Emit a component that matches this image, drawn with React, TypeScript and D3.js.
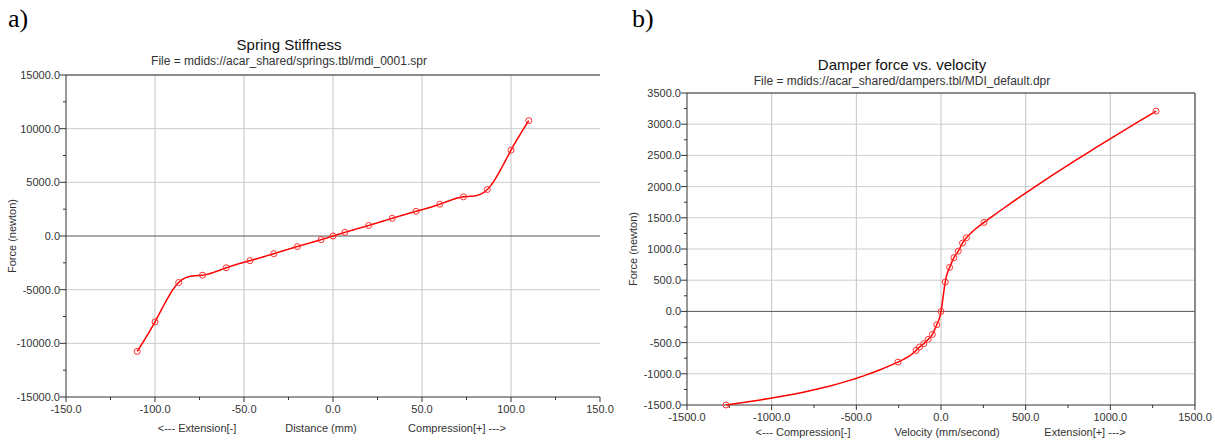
import React from 'react';
import * as d3 from 'd3';

// spring: distance (mm) vs force (N)
const springX = [-110, -100, -86.7, -73.3, -60, -46.7, -33.3, -20, -6.67, 0, 6.67, 20, 33.3, 46.7, 60, 73.3, 86.7, 100, 110];
const springY = [-10750, -8000, -4330, -3650, -2960, -2300, -1650, -980, -340, 0, 340, 980, 1650, 2300, 2960, 3650, 4330, 8000, 10750];

// damper: velocity (mm/s) vs force (N)
const damperX = [-1270, -254, -147, -127, -102, -76, -51, -25, 0, 25, 51, 76, 102, 127, 150, 254, 1270];
const damperY = [-1500, -812, -625, -572, -518, -449, -369, -214, 0, 470, 705, 860, 966, 1095, 1180, 1426, 3210];

const springXTicks = [-150, -100, -50, 0, 50, 100, 150];
const springYTicks = [-15000, -10000, -5000, 0, 5000, 10000, 15000];
const damperXTicks = [-1500, -1000, -500, 0, 500, 1000, 1500];
const damperYTicks = [-1500, -1000, -500, 0, 500, 1000, 1500, 2000, 2500, 3000, 3500];

const FONT = '"Liberation Sans", Arial, sans-serif';

// natural cubic spline y(x), sampled for drawing
function splineSamples(xs: number[], ys: number[], per = 20): [number, number][] {
  const n = xs.length;
  const h = xs.slice(0, -1).map((v, i) => xs[i + 1] - v);
  const a = new Array(n).fill(0);
  const b = new Array(n).fill(1);
  const c = new Array(n).fill(0);
  const r = new Array(n).fill(0);
  for (let i = 1; i < n - 1; i++) {
    a[i] = h[i - 1];
    b[i] = 2 * (h[i - 1] + h[i]);
    c[i] = h[i];
    r[i] = 6 * ((ys[i + 1] - ys[i]) / h[i] - (ys[i] - ys[i - 1]) / h[i - 1]);
  }
  // thomas
  for (let i = 1; i < n; i++) {
    const m = a[i] / b[i - 1];
    b[i] -= m * c[i - 1];
    r[i] -= m * r[i - 1];
  }
  const M = new Array(n).fill(0);
  M[n - 1] = r[n - 1] / b[n - 1];
  for (let i = n - 2; i >= 0; i--) M[i] = (r[i] - c[i] * M[i + 1]) / b[i];

  const out: [number, number][] = [];
  for (let i = 0; i < n - 1; i++) {
    for (let k = 0; k < per; k++) {
      const t = xs[i] + (h[i] * k) / per;
      const A = (xs[i + 1] - t) / h[i];
      const B = (t - xs[i]) / h[i];
      const v =
        A * ys[i] +
        B * ys[i + 1] +
        (((A * A * A - A) * M[i] + (B * B * B - B) * M[i + 1]) * h[i] * h[i]) / 6;
      out.push([t, v]);
    }
  }
  out.push([xs[n - 1], ys[n - 1]]);
  return out;
}

type PanelProps = {
  letter: string;
  letterX: number;
  title: string;
  subtitle: string;
  titleX: number;
  titleY: number;
  left: number;
  right: number;
  top: number;
  bottom: number;
  xDomain: [number, number];
  yDomain: [number, number];
  xTicks: number[];
  yTicks: number[];
  xs: number[];
  ys: number[];
  xLabels: { text: string; x: number }[];
  xLabelY: number;
  yLabelX: number;
  rightBorder: boolean;
};

const Panel = (p: PanelProps) => {
  const x = d3.scaleLinear().domain(p.xDomain).range([p.left, p.right]);
  const y = d3.scaleLinear().domain(p.yDomain).range([p.bottom, p.top]);
  const pts = p.xs.map((v, i) => [v, p.ys[i]] as [number, number]);
  const line = d3
    .line<[number, number]>()
    .x((d) => x(d[0]))
    .y((d) => y(d[1]));

  const xMinor = p.xTicks.slice(0, -1).map((t, i) => (t + p.xTicks[i + 1]) / 2);
  const yMinor = p.yTicks.slice(0, -1).map((t, i) => (t + p.yTicks[i + 1]) / 2);

  return (
    <g>
      <text x={p.letterX} y={27} fontFamily='"Liberation Serif", "Times New Roman", serif' fontSize={26}>
        {p.letter}
      </text>
      <text x={p.titleX} y={p.titleY} textAnchor="middle" fontFamily={FONT} fontSize={15} fill="#111">
        {p.title}
      </text>
      <text x={p.titleX} y={p.titleY + 15} textAnchor="middle" fontFamily={FONT} fontSize={12} fill="#333">
        {p.subtitle}
      </text>

      {/* grid */}
      {p.xTicks.slice(1, -1).map((t) => (
        <line key={'gx' + t} x1={x(t)} x2={x(t)} y1={p.top} y2={p.bottom} stroke="#c4c4c4" />
      ))}
      {p.yTicks.slice(1, -1).filter((t) => t !== 0).map((t) => (
        <line key={'gy' + t} x1={p.left} x2={p.right} y1={y(t)} y2={y(t)} stroke="#cdcdcd" />
      ))}
      <line x1={p.left} x2={p.right} y1={y(0)} y2={y(0)} stroke="#555" />

      {/* frame */}
      <line x1={p.left} x2={p.right} y1={p.top} y2={p.top} stroke="#666" strokeWidth={1.5} />
      {p.rightBorder && <line x1={p.right} x2={p.right} y1={p.top} y2={p.bottom} stroke="#666" strokeWidth={1.5} />}
      <line x1={p.left} x2={p.left} y1={p.top} y2={p.bottom} stroke="#333" />
      <line x1={p.left} x2={p.right} y1={p.bottom} y2={p.bottom} stroke="#333" />

      {/* y ticks */}
      {p.yTicks.map((t) => (
        <g key={'yt' + t}>
          <line x1={p.left - 6} x2={p.left} y1={y(t)} y2={y(t)} stroke="#333" />
          <text x={p.left - 6} y={y(t) + 4} textAnchor="end" fontFamily={FONT} fontSize={11} fill="#333">
            {t.toFixed(1)}
          </text>
        </g>
      ))}
      {yMinor.map((t) => (
        <line key={'ym' + t} x1={p.left - 3} x2={p.left} y1={y(t)} y2={y(t)} stroke="#333" />
      ))}

      {/* x ticks */}
      {p.xTicks.map((t) => (
        <g key={'xt' + t}>
          <line x1={x(t)} x2={x(t)} y1={p.bottom} y2={p.bottom + 5} stroke="#333" />
          <text x={x(t)} y={p.bottom + 16} textAnchor="middle" fontFamily={FONT} fontSize={11} fill="#333">
            {t.toFixed(1)}
          </text>
        </g>
      ))}
      {xMinor.map((t) => (
        <line key={'xm' + t} x1={x(t)} x2={x(t)} y1={p.bottom} y2={p.bottom + 3} stroke="#333" />
      ))}

      {p.xLabels.map((l) => (
        <text key={l.text} x={l.x} y={p.xLabelY} textAnchor="middle" fontFamily={FONT} fontSize={11} fill="#333">
          {l.text}
        </text>
      ))}
      <text
        transform={`translate(${p.yLabelX},${(p.top + p.bottom) / 2}) rotate(-90)`}
        textAnchor="middle"
        fontFamily={FONT}
        fontSize={11}
        fill="#333"
      >
        Force (newton)
      </text>

      <path d={line(splineSamples(p.xs, p.ys)) || ''} fill="none" stroke="#ff0000" strokeWidth={1.5} />
      {pts.map((d, i) => (
        <circle key={'c' + i} cx={x(d[0])} cy={y(d[1])} r={3} fill="none" stroke="#ff3030" strokeWidth={1} />
      ))}
    </g>
  );
};

export default function App() {
  return (
    <div style={{ position: 'absolute', left: 0, top: 0 }}>
      <svg width={1215} height={441} style={{ display: 'block', background: '#fff' }}>
        <Panel
          letter="a)"
          letterX={8}
          title="Spring Stiffness"
          subtitle="File = mdids://acar_shared/springs.tbl/mdi_0001.spr"
          titleX={289}
          titleY={50}
          left={66}
          right={600}
          top={75}
          bottom={397}
          xDomain={[-150, 150]}
          yDomain={[-15000, 15000]}
          xTicks={springXTicks}
          yTicks={springYTicks}
          xs={springX}
          ys={springY}
          xLabels={[
            { text: '<--- Extension[-]', x: 197 },
            { text: 'Distance (mm)', x: 321 },
            { text: 'Compression[+] --->', x: 457 },
          ]}
          xLabelY={432}
          yLabelX={16}
          rightBorder={false}
        />
        <Panel
          letter="b)"
          letterX={632}
          title="Damper force vs. velocity"
          subtitle="File = mdids://acar_shared/dampers.tbl/MDI_default.dpr"
          titleX={902}
          titleY={70}
          left={687}
          right={1195}
          top={93}
          bottom={405}
          xDomain={[-1500, 1500]}
          yDomain={[-1500, 3500]}
          xTicks={damperXTicks}
          yTicks={damperYTicks}
          xs={damperX}
          ys={damperY}
          xLabels={[
            { text: '<--- Compression[-]', x: 803 },
            { text: 'Velocity (mm/second)', x: 947 },
            { text: 'Extension[+] --->', x: 1085 },
          ]}
          xLabelY={436}
          yLabelX={637}
          rightBorder={true}
        />
      </svg>
    </div>
  );
}
